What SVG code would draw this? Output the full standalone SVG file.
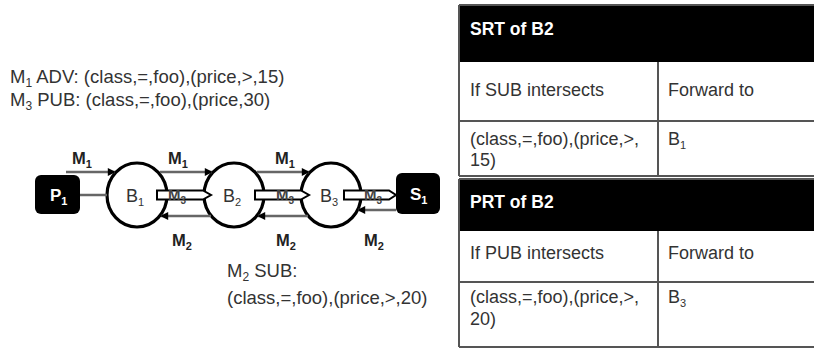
<svg xmlns="http://www.w3.org/2000/svg" width="814" height="349" viewBox="0 0 814 349">
<defs>
<marker id="ah" viewBox="0 0 10 10" refX="9" refY="5" markerWidth="9" markerHeight="8" markerUnits="userSpaceOnUse" orient="auto"><path d="M0,0 L10,5 L0,10 Z" fill="#000"/></marker>
</defs>
<style>
text{font-family:"Liberation Sans",Arial,sans-serif}
.t{fill:#333;font-size:18.5px}
.lbl{font-weight:bold;font-size:16.5px;fill:#222}
.bl{fill:#333;font-size:18px}
.ln{stroke:#666;stroke-width:2.5;fill:none}
.br{fill:#fff;stroke:#000;stroke-width:3.2}
.box{fill:#000}
.hol{fill:#fff;stroke:#000;stroke-width:2}
.tb{stroke:#555;stroke-width:2;fill:none}
.hd{fill:#fff;font-weight:bold;font-size:17.5px}
.cell{fill:#333;font-size:18px}
.wt{fill:#fff;font-weight:bold;font-size:17px}
.m3{font-weight:bold;font-size:15px;fill:#444}
</style>
<rect width="814" height="349" fill="#fff"/>

<g id="text-adv">
<text class="t" x="10" y="83">M<tspan dy="4" font-size="12">1</tspan><tspan dy="-4"> ADV: (class,=,foo),(price,&gt;,15)</tspan></text>
<text class="t" x="10" y="106">M<tspan dy="4" font-size="12">3</tspan><tspan dy="-4"> PUB: (class,=,foo),(price,30)</tspan></text>
</g>
<g id="text-sub">
<text class="t" x="227" y="277">M<tspan dy="4" font-size="12">2</tspan><tspan dy="-4"> SUB:</tspan></text>
<text class="t" x="227" y="304">(class,=,foo),(price,&gt;,20)</text>
</g>

<g id="P1">
<rect class="box" x="35" y="175" width="45" height="39" rx="6"/>
<text class="wt" x="50" y="201">P<tspan dy="4" font-size="11">1</tspan></text>
</g>
<g id="B1">
<ellipse class="br" cx="137" cy="195" rx="30" ry="32"/>
<text class="bl" x="126" y="202">B<tspan dy="4" font-size="11">1</tspan></text>
</g>
<g id="B2">
<ellipse class="br" cx="234" cy="195" rx="30" ry="32"/>
<text class="bl" x="223" y="202">B<tspan dy="4" font-size="11">2</tspan></text>
</g>
<g id="B3">
<ellipse class="br" cx="331" cy="195" rx="30" ry="32"/>
<text class="bl" x="320" y="202">B<tspan dy="4" font-size="11">3</tspan></text>
</g>
<g id="S1">
<rect class="box" x="396" y="173" width="44" height="41" rx="6"/>
<text class="wt" x="410" y="200">S<tspan dy="4" font-size="11">1</tspan></text>
</g>

<g id="connectors">
<line class="ln" x1="66" y1="172" x2="115" y2="172" marker-end="url(#ah)"/>
<line class="ln" x1="80" y1="195" x2="107" y2="195"/>
<line class="ln" x1="160" y1="172" x2="212" y2="172" marker-end="url(#ah)"/>
<line class="ln" x1="211" y1="216" x2="161" y2="216" marker-end="url(#ah)"/>
<line class="ln" x1="257" y1="172" x2="309" y2="172" marker-end="url(#ah)"/>
<line class="ln" x1="308" y1="216" x2="258" y2="216" marker-end="url(#ah)"/>
<line class="ln" x1="396" y1="210" x2="358" y2="210" marker-end="url(#ah)"/>
<path class="hol" d="M157,190.5 H203 L211,195 L203,199.5 H157 Z"/>
<path class="hol" d="M255,190.5 H301 L309,195 L301,199.5 H255 Z"/>
<path class="hol" d="M344,190.5 H389 L396,195 L389,199.5 H344 Z"/>
<text class="m3" x="168" y="200">M<tspan dy="4" font-size="10">3</tspan></text>
<text class="m3" x="276" y="200">M<tspan dy="4" font-size="10">3</tspan></text>
<text class="m3" x="364" y="200">M<tspan dy="4" font-size="10">3</tspan></text>
<text class="lbl" x="72" y="164">M<tspan dy="4" font-size="11">1</tspan></text>
<text class="lbl" x="168" y="164">M<tspan dy="4" font-size="11">1</tspan></text>
<text class="lbl" x="275" y="164">M<tspan dy="4" font-size="11">1</tspan></text>
<text class="lbl" x="172" y="246">M<tspan dy="4" font-size="11">2</tspan></text>
<text class="lbl" x="276" y="246">M<tspan dy="4" font-size="11">2</tspan></text>
<text class="lbl" x="364" y="246">M<tspan dy="4" font-size="11">2</tspan></text>
</g>

<g id="SRT">
<rect x="459" y="6" width="356" height="56" fill="#000"/>
<line class="tb" x1="459" y1="5" x2="814" y2="5"/>
<line class="tb" x1="459" y1="5" x2="459" y2="176"/>
<line class="tb" x1="459" y1="121" x2="814" y2="121"/>
<line class="tb" x1="459" y1="176" x2="814" y2="176"/>
<line class="tb" x1="658" y1="62" x2="658" y2="176"/>
<text class="hd" x="470" y="35">SRT of B2</text>
<text class="cell" x="470" y="96">If SUB intersects</text>
<text class="cell" x="668" y="96">Forward to</text>
<text class="cell" x="470" y="145">(class,=,foo),(price,&gt;,</text>
<text class="cell" x="470" y="166">15)</text>
<text class="cell" x="668" y="145">B<tspan dy="4" font-size="11">1</tspan></text>
</g>

<g id="PRT">
<rect x="459" y="180" width="356" height="51" fill="#000"/>
<line class="tb" x1="459" y1="179" x2="814" y2="179"/>
<line class="tb" x1="459" y1="179" x2="459" y2="347"/>
<line class="tb" x1="459" y1="282" x2="814" y2="282"/>
<line class="tb" x1="459" y1="347" x2="814" y2="347"/>
<line class="tb" x1="658" y1="231" x2="658" y2="347"/>
<text class="hd" x="470" y="208">PRT of B2</text>
<text class="cell" x="470" y="259">If PUB intersects</text>
<text class="cell" x="668" y="259">Forward to</text>
<text class="cell" x="470" y="303">(class,=,foo),(price,&gt;,</text>
<text class="cell" x="470" y="325">20)</text>
<text class="cell" x="668" y="303">B<tspan dy="4" font-size="11">3</tspan></text>
</g>
</svg>
